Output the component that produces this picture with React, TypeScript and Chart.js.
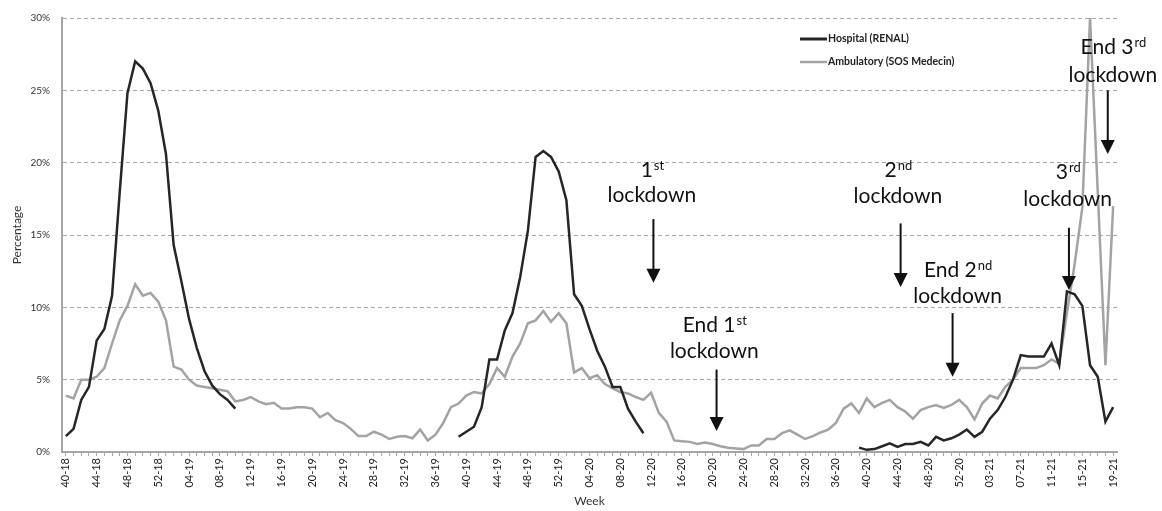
import React, { useEffect, useRef } from "react";
import { Chart, registerables } from "chart.js";

Chart.register(...registerables);

// ---- Categories: ISO weeks from 40-18 to 19-21 ----
const FIRST_WEEK = 40;
const FIRST_YEAR = 18;
const LAST_WEEK = 19;
const LAST_YEAR = 21;
const WEEKS_PER_YEAR: Record<number, number> = { 18: 52, 19: 52, 20: 53, 21: 52 };

function buildWeeks(): string[] {
  const out: string[] = [];
  let w = FIRST_WEEK;
  let y = FIRST_YEAR;
  while (true) {
    out.push(String(w).padStart(2, "0") + "-" + String(y));
    if (w === LAST_WEEK && y === LAST_YEAR) break;
    w += 1;
    if (w > WEEKS_PER_YEAR[y]) {
      w = 1;
      y += 1;
    }
  }
  return out;
}
const weeks = buildWeeks();
const LABEL_EVERY = 4;

// ---- Series (percentage) ----
const hospital1 = [1.1, 1.6, 3.6, 4.5, 7.7, 8.5, 10.8, 18.0, 24.8, 27.0, 26.5, 25.5, 23.6, 20.6, 14.3, 11.8, 9.2, 7.2, 5.6, 4.6, 4.0, 3.6, 3.0];
const hospital2 = [1.05, 1.4, 1.75, 3.1, 6.4, 6.4, 8.4, 9.6, 12.1, 15.3, 20.4, 20.8, 20.4, 19.4, 17.4, 10.9, 10.1, 8.5, 7.0, 5.9, 4.5, 4.5, 3.0, 2.1, 1.3];
const hospital3 = [0.3, 0.15, 0.2, 0.4, 0.6, 0.35, 0.55, 0.55, 0.7, 0.45, 1.05, 0.8, 0.95, 1.2, 1.55, 1.05, 1.4, 2.3, 2.9, 3.8, 5.0, 6.7, 6.6, 6.6, 6.6, 7.5, 6.0, 11.1, 10.9, 10.1, 6.0, 5.2, 2.1, 3.1];
const hospitalGap1 = 28; // weeks without hospital data (23..50)
const hospitalGap2 = 27; // weeks without hospital data (76..102)

const ambulatory = [
  3.9, 3.7, 5.0, 5.0, 5.2, 5.8, 7.5, 9.1, 10.1, 11.6, 10.8, 11.0, 10.4, 9.1, 5.9, 5.7, 5.0, 4.6, 4.5, 4.4, 4.3, 4.2,
  3.5, 3.6, 3.8, 3.5, 3.3, 3.4, 3.0, 3.0, 3.1, 3.1, 3.0, 2.4, 2.7, 2.2, 2.0, 1.6, 1.1, 1.1, 1.4, 1.2, 0.9, 1.05, 1.1, 0.95, 1.55, 0.8, 1.2, 2.0, 3.1,
  3.35, 3.9, 4.15, 4.05, 4.7, 5.8, 5.2, 6.6, 7.5, 8.9, 9.1, 9.75, 9.0, 9.6, 8.9, 5.5, 5.8, 5.1, 5.3, 4.7, 4.4, 4.15, 4.05, 3.8, 3.6, 4.1, 2.7,
  2.1, 0.8, 0.75, 0.7, 0.55, 0.65, 0.55, 0.4, 0.3, 0.25, 0.2, 0.45, 0.45, 0.9, 0.9, 1.3, 1.5, 1.2, 0.9, 1.1, 1.35, 1.55, 2.0, 3.0, 3.35, 2.7, 3.7, 3.1,
  3.4, 3.6, 3.1, 2.8, 2.3, 2.9, 3.1, 3.25, 3.05, 3.25, 3.6, 3.1, 2.25, 3.35, 3.9, 3.7, 4.5, 5.0, 5.8, 5.8, 5.8, 6.0,
  6.4, 6.1, 9.6, 13.0, 16.9, 30.0, 18.0, 6.0, 17.0,
];

const hospital: (number | null)[] = [
  ...hospital1,
  ...new Array(hospitalGap1).fill(null),
  ...hospital2,
  ...new Array(hospitalGap2).fill(null),
  ...hospital3,
];

const seriesNames = ["Hospital (RENAL)", "Ambulatory (SOS Medecin)"];
const Y_MIN = 0;
const Y_MAX = 30;
const Y_STEP = 5;

// ---- Annotations (x in week index, y in %) ----
const annotations = [
  { pre: "1", sup: "st", line2: "lockdown", tx: 76.1, y1: 19.0, y2: 17.3, ax: 76.3, aFrom: 16.1, aTo: 11.7 },
  { pre: "End 1", sup: "st", line2: "lockdown", tx: 84.2, y1: 8.3, y2: 6.5, ax: 84.5, aFrom: 5.7, aTo: 1.45 },
  { pre: "2", sup: "nd", line2: "lockdown", tx: 108.05, y1: 19.0, y2: 17.2, ax: 108.4, aFrom: 15.8, aTo: 11.4 },
  { pre: "End 2", sup: "nd", line2: "lockdown", tx: 115.8, y1: 12.1, y2: 10.3, ax: 115.15, aFrom: 9.6, aTo: 5.2 },
  { pre: "3", sup: "rd", line2: "lockdown", tx: 130.1, y1: 18.9, y2: 17.0, ax: 130.26, aFrom: 15.5, aTo: 11.2 },
  { pre: "End 3", sup: "rd", line2: "lockdown", tx: 135.97, y1: 27.5, y2: 25.6, ax: 135.3, aFrom: 25.0, aTo: 20.6 },
];

const FONT = "Lato";
const HOSP_COLOR = "#262626";
const AMB_COLOR = "#a3a3a3";
const AXIS_COLOR = "#a6a6a6";

const overlayPlugin = {
  id: "overlay",
  afterDraw(chart: any) {
    const { ctx, scales } = chart;
    const xs = scales.x;
    const ys = scales.y;
    ctx.save();
    // Annotations
    for (const a of annotations) {
      const cx = xs.getPixelForValue(a.tx);
      const b1 = ys.getPixelForValue(a.y1);
      const b2 = ys.getPixelForValue(a.y2);
      ctx.fillStyle = "#111";
      ctx.textBaseline = "alphabetic";
      ctx.textAlign = "left";
      ctx.font = `21px ${FONT}`;
      const wPre = ctx.measureText(a.pre).width;
      ctx.font = `13px ${FONT}`;
      const wSup = ctx.measureText(a.sup).width;
      const start = cx - (wPre + wSup) / 2;
      ctx.font = `21px ${FONT}`;
      ctx.fillText(a.pre, start, b1);
      ctx.font = `13px ${FONT}`;
      ctx.fillText(a.sup, start + wPre + 1, b1 - 7);
      ctx.font = `21px ${FONT}`;
      ctx.textAlign = "center";
      ctx.fillText(a.line2, cx, b2);

      // arrow
      const ax = xs.getPixelForValue(a.ax);
      const y0 = ys.getPixelForValue(a.aFrom);
      const y1 = ys.getPixelForValue(a.aTo);
      const head = 14;
      ctx.strokeStyle = "#111";
      ctx.lineWidth = 2;
      ctx.beginPath();
      ctx.moveTo(ax, y0);
      ctx.lineTo(ax, y1 - head + 2);
      ctx.stroke();
      ctx.beginPath();
      ctx.moveTo(ax - 7, y1 - head);
      ctx.lineTo(ax + 7, y1 - head);
      ctx.lineTo(ax, y1);
      ctx.closePath();
      ctx.fill();
    }

    // Legend
    const lx0 = 800;
    const lx1 = 827;
    const rows = [
      { y: 39, color: HOSP_COLOR, w: 3, text: seriesNames[0] },
      { y: 62, color: AMB_COLOR, w: 2.5, text: seriesNames[1] },
    ];
    for (const r of rows) {
      ctx.strokeStyle = r.color;
      ctx.lineWidth = r.w;
      ctx.beginPath();
      ctx.moveTo(lx0, r.y);
      ctx.lineTo(lx1, r.y);
      ctx.stroke();
      ctx.fillStyle = "#222";
      ctx.font = `bold 10.5px ${FONT}`;
      ctx.textAlign = "left";
      ctx.textBaseline = "middle";
      ctx.fillText(r.text, lx1 + 1, r.y);
    }
    ctx.restore();
  },
};

export default function App() {
  const ref = useRef<HTMLCanvasElement | null>(null);

  useEffect(() => {
    if (!ref.current) return;
    Chart.defaults.font.family = FONT;
    const chart = new Chart(ref.current, {
      type: "line",
      data: {
        labels: weeks,
        datasets: [
          {
            label: seriesNames[0],
            data: hospital,
            borderColor: HOSP_COLOR,
            borderWidth: 2.5,
            pointRadius: 0,
            tension: 0,
            spanGaps: false,
            fill: false,
          },
          {
            label: seriesNames[1],
            data: ambulatory,
            borderColor: AMB_COLOR,
            borderWidth: 2.5,
            pointRadius: 0,
            tension: 0,
            fill: false,
          },
        ],
      },
      options: {
        responsive: false,
        animation: false,
        devicePixelRatio: 1,
        layout: { padding: { left: 0, right: 45, top: 17, bottom: 0 } },
        plugins: {
          legend: { display: false },
          tooltip: { enabled: false },
        },
        scales: {
          x: {
            type: "category",
            offset: true,
            grid: {
              display: true,
              drawOnChartArea: false,
              drawTicks: true,
              tickLength: 4,
              color: AXIS_COLOR,
              lineWidth: 1,
            },
            border: { display: true, color: AXIS_COLOR, width: 2 },
            ticks: {
              autoSkip: false,
              minRotation: 90,
              maxRotation: 90,
              padding: 2,
              color: "#222",
              font: { size: 11, family: FONT },
              callback: (_v: any, i: number) => (i % LABEL_EVERY === 0 ? weeks[i] : ""),
            },
            title: {
              display: true,
              text: "Week",
              color: "#333",
              font: { size: 12, family: FONT },
              padding: { top: 0, bottom: 3 },
            },
            afterFit: (s: any) => {
              s.height = 59;
            },
          },
          y: {
            min: Y_MIN,
            max: Y_MAX,
            grid: {
              color: AXIS_COLOR,
              lineWidth: 1,
              drawTicks: false,
            },
            border: { display: true, color: AXIS_COLOR, width: 2, dash: [4, 3] },
            ticks: {
              stepSize: Y_STEP,
              padding: 12,
              color: "#333",
              font: { size: 10, family: FONT },
              callback: (v: any) => `${v}%`,
            },
            title: {
              display: true,
              text: "Percentage",
              color: "#333",
              font: { size: 12, family: FONT },
              padding: { top: 10, bottom: 0 },
            },
            afterFit: (s: any) => {
              s.width = 62;
            },
          },
        },
      },
      plugins: [overlayPlugin],
    });
    return () => chart.destroy();
  }, []);

  return (
    <div style={{ position: "fixed", left: 0, top: 0, width: 1162, height: 511, background: "#fff" }}>
      <canvas ref={ref} width={1162} height={511} style={{ display: "block" }} />
    </div>
  );
}
